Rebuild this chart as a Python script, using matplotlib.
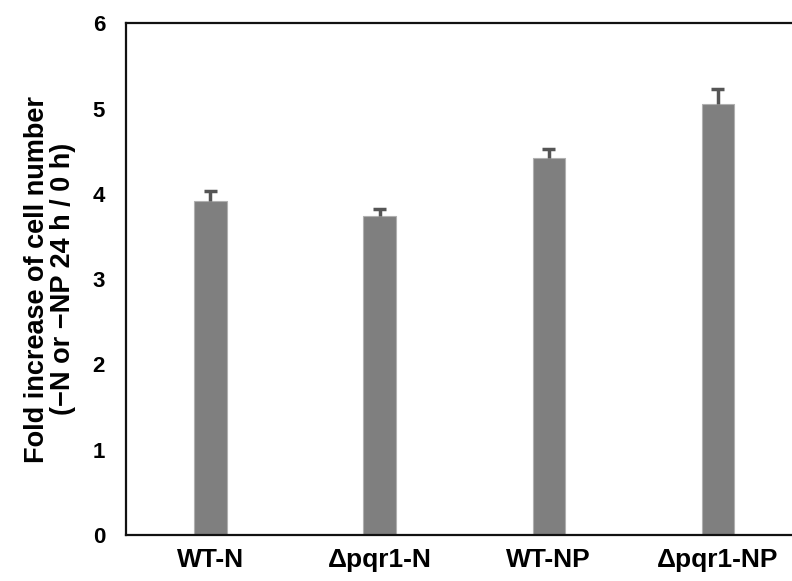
import numpy as np
import matplotlib
matplotlib.use("Agg")
import matplotlib.pyplot as plt

plt.rcParams["font.family"] = ["Liberation Sans", "DejaVu Sans"]
plt.rcParams["font.weight"] = "bold"

labels = ["WT-N", "Δpqr1-N", "WT-NP", "Δpqr1-NP"]
values = [3.92, 3.74, 4.42, 5.05]
errors = [0.11, 0.08, 0.11, 0.18]

BAR = "#7f7f7f"
ERR = "#555555"

fig = plt.figure(figsize=(7.92, 5.81), dpi=100)
ax = fig.add_axes([0.159, 0.079, 0.841, 0.881])

x = np.arange(len(labels))
vals = np.array(values)
errs = np.array(errors)
ax.bar(x, vals, width=0.19, color=BAR, edgecolor="#b0b0b0", linewidth=0.8, zorder=2)
# upper error bars only
ax.vlines(x, vals, vals + errs, color=ERR, linewidth=2.5, zorder=3)
ax.hlines(vals + errs, x - 0.037, x + 0.037, color=ERR, linewidth=2.5, zorder=3)

ax.set_xlim(-0.5, 3.44)
ax.set_ylim(0, 6)
ax.set_yticks(range(0, 7))
ax.set_xticks(x)
ax.set_xticklabels(labels, fontsize=19, fontweight="bold")
ax.tick_params(axis="y", length=0, labelsize=16, pad=15)
ax.tick_params(axis="x", length=0, pad=9)
for lab in ax.get_yticklabels():
    lab.set_fontweight("bold")

for side in ["left", "bottom", "top"]:
    ax.spines[side].set_linewidth(1.6)
    ax.spines[side].set_color("#111111")
ax.spines["right"].set_visible(False)

ax.set_ylabel("Fold increase of cell number\n(\u2212N or \u2212NP 24 h / 0 h)",
              fontsize=19.5, fontweight="bold", labelpad=12, linespacing=1.0)

fig.savefig("out.png", dpi=100)
